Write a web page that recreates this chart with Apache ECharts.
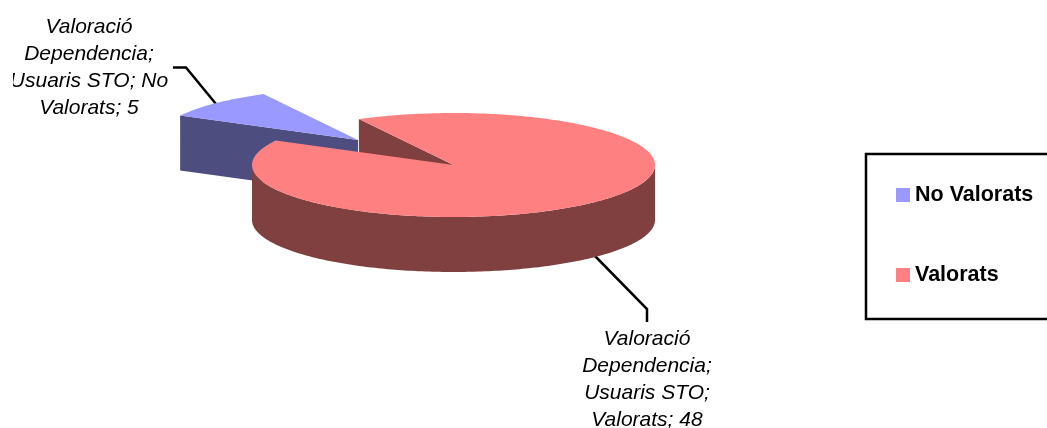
<!DOCTYPE html>
<html>
<head>
<meta charset="utf-8">
<style>
  html, body { margin: 0; padding: 0; background: #fff; }
  #chart { width: 1047px; height: 428px; }
</style>
<script src="https://cdn.jsdelivr.net/npm/echarts@6/dist/echarts.min.js"></script>
</head>
<body>
<div id="chart"></div>
<script>
var categories = ['No Valorats', 'Valorats']
var values = [5, 48]
var groupName = 'Valoració'
var subName = 'Dependencia'
var seriesName = 'Usuaris STO'

var topColors = ['#9999FF', '#FF8080']
var sideColors = ['#4D4D80', '#804040']
var font = '"Liberation Sans", Arial, sans-serif'

// pie geometry, the pie is a flattened ellipse with a wall under it
var cx = 453.5, cy = 165, rx = 201.5, ry = 52, depth = 55
var startAngle = 118 // where the first slice starts, degrees, counter clockwise
var explode = [-95.5, -25] // offset of the pulled out slice

var total = values.reduce(function (a, b) { return a + b }, 0)

function rim (deg, ox, oy) {
  var t = deg * Math.PI / 180
  return [cx + ox + rx * Math.cos(t), cy + oy - ry * Math.sin(t)]
}
function arc (from, to, ox, oy, down) {
  var pts = []
  var n = Math.max(2, Math.ceil(Math.abs(to - from)))
  for (var i = 0; i <= n; i++) {
    var p = rim(from + (to - from) * i / n, ox, oy)
    pts.push([p[0], p[1] + (down || 0)])
  }
  return pts
}
function poly (pts, color) {
  return { type: 'polygon', shape: { points: pts }, style: { fill: color } }
}
function edgeWall (deg, ox, oy, color) {
  var c = [cx + ox, cy + oy]
  var r = rim(deg, ox, oy)
  return poly([c, r, [r[0], r[1] + depth], [c[0], c[1] + depth]], color)
}

function renderSmall (params, api) {
  var sweep = api.value(0) / total * 360
  var a0 = startAngle, a1 = startAngle + sweep
  var ox = explode[0], oy = explode[1]
  return {
    type: 'group',
    children: [
      edgeWall(a1, ox, oy, sideColors[0]),
      poly([[cx + ox, cy + oy]].concat(arc(a0, a1, ox, oy)), topColors[0])
    ]
  }
}

function renderBig (params, api) {
  var sweep = api.value(0) / total * 360
  var a0 = startAngle + 360 - sweep, a1 = startAngle + 360
  var front = arc(180, 360, 0, 0)
  var frontLow = arc(360, 180, 0, 0, depth)
  return {
    type: 'group',
    children: [
      edgeWall(a1, 0, 0, sideColors[1]),
      poly(front.concat(frontLow), sideColors[1]),
      poly([[cx, cy]].concat(arc(a0, a1, 0, 0)), topColors[1])
    ]
  }
}

var labelStyle = {
  font: 'italic 21px ' + font,
  fill: '#000',
  align: 'center',
  lineHeight: 27
}

var chart = echarts.init(document.getElementById('chart'))
chart.setOption({
  animation: false,
  backgroundColor: '#fff',
  legend: {
    orient: 'vertical',
    left: 891,
    top: 179,
    padding: [5, 5],
    itemWidth: 14,
    itemHeight: 14,
    itemGap: 58,
    itemStyle: { borderWidth: 0 },
    icon: 'rect',
    selectedMode: false,
    textStyle: { fontFamily: font, fontWeight: 'bold', fontSize: 21.5, color: '#000', padding: [5, 0, 0, 0] },
    data: categories
  },
  series: [
    {
      type: 'custom',
      name: categories[0],
      coordinateSystem: 'none',
      silent: true,
      itemStyle: { color: topColors[0] },
      renderItem: renderSmall,
      data: [[values[0]]]
    },
    {
      type: 'custom',
      name: categories[1],
      coordinateSystem: 'none',
      silent: true,
      itemStyle: { color: topColors[1] },
      renderItem: renderBig,
      data: [[values[1]]]
    }
  ],
  graphic: [
    {
      type: 'rect',
      silent: true,
      shape: { x: 866, y: 154, width: 220, height: 165 },
      style: { fill: 'none', stroke: '#000', lineWidth: 2.5 }
    },
    {
      type: 'polyline',
      silent: true,
      shape: { points: [[173, 67.5], [186, 67.5], [216, 104]] },
      style: { fill: 'none', stroke: '#000', lineWidth: 2.5 }
    },
    {
      type: 'polyline',
      silent: true,
      shape: { points: [[595, 256], [647, 309], [647, 322]] },
      style: { fill: 'none', stroke: '#000', lineWidth: 2.5 }
    },
    {
      type: 'text',
      silent: true,
      x: 89,
      y: 14,
      style: Object.assign({
        text: groupName + '\n' + subName + ';\n' + seriesName + '; No\n' + categories[0].split(' ')[1] + '; ' + values[0]
      }, labelStyle)
    },
    {
      // the label box cuts the long line off on the left
      type: 'rect',
      silent: true,
      z: 10,
      shape: { x: 0, y: 60, width: 13, height: 30 },
      style: { fill: '#fff' }
    },
    {
      type: 'text',
      silent: true,
      x: 647,
      y: 326,
      style: Object.assign({
        text: groupName + '\n' + subName + ';\n' + seriesName + ';\n' + categories[1] + '; ' + values[1]
      }, labelStyle)
    }
  ]
})
</script>
</body>
</html>
